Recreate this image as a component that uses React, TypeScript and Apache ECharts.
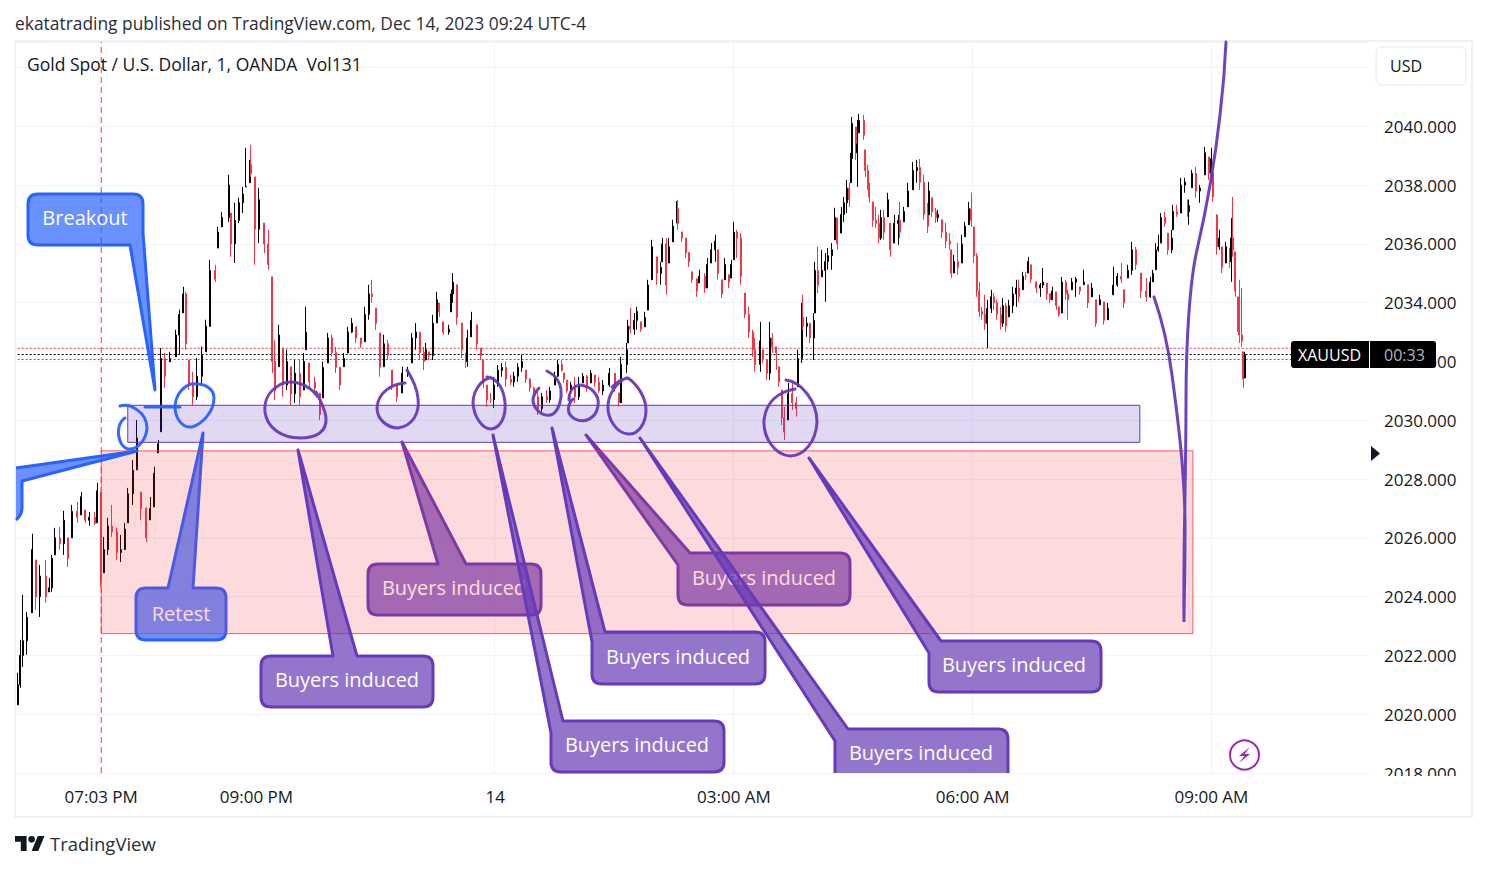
import React, { useEffect, useRef } from "react";
import * as echarts from "echarts";

const FONT = "'Open Sans', 'Noto Sans', sans-serif";
const INK = "#131722";
const UP = "#000000";
const DOWN = "#f23645";
const PURPLE = "#673ab7";
const BLUE = "#2962ff";

// Each row: [minutes after 18:00, low, high, close]
const eveningRows = [
  [0,2020.32,2021.41,2021.0],[2,2020.90,2022.53,2022.0],[4,2021.61,2024.06,2022.5],[7,2022.02,2023.48,2023.3],
  [11,2023.45,2026.14,2025.6],[14,2023.55,2025.25,2024.0],[17,2023.31,2025.08,2024.7],[21,2023.79,2025.25,2024.0],
  [24,2024.16,2024.64,2024.3],[26,2024.16,2025.42,2025.3],[28,2025.42,2026.34,2026.0],[32,2025.59,2026.37,2025.8],
  [35,2025.42,2026.92,2026.6],[38,2025.01,2026.0,2025.3],[41,2026.0,2027.12,2026.9],[45,2026.51,2027.22,2026.7],
  [48,2026.78,2027.56,2027.4],[51,2026.51,2026.95,2026.6],[54,2026.41,2026.88,2026.7],[58,2026.44,2026.88,2026.5],
  [60,2026.51,2027.87,2027.6],[63,2024.33,2027.56,2024.6],[65,2024.81,2026.03,2025.6],[68,2025.42,2026.68,2026.4],
  [71,2026.03,2027.12,2026.2],[75,2025.25,2026.34,2025.5],[78,2025.18,2026.10,2025.6],[81,2025.59,2026.51,2026.3],
  [83,2026.51,2027.70,2027.5],[87,2027.12,2028.65,2028.3],[90,2028.31,2030.01,2029.4],[93,2026.61,2027.56,2027.0],
  [97,2025.86,2027.05,2026.0],[100,2026.61,2027.39,2027.0],[103,2027.05,2028.42,2028.2],[106,2028.89,2029.33,2029.2],
];
const rallyOneRows = [
  [108,2029.61,2032.46,2032.1],[111,2031.10,2032.29,2031.5],[115,2031.99,2032.33,2032.1],[119,2032.16,2033.08,2032.9],
  [122,2032.23,2033.76,2033.6],[125,2033.65,2034.54,2034.3],[127,2032.40,2034.37,2032.6],[129,2031.03,2032.05,2031.2],
  [132,2030.52,2031.65,2030.8],[135,2030.69,2032.12,2031.5],[139,2031.27,2032.50,2032.2],[142,2032.33,2033.42,2033.2],
  [145,2033.18,2035.46,2035.1],[149,2034.71,2035.29,2034.8],[151,2035.86,2036.58,2036.4],[154,2036.58,2037.09,2036.9],
  [159,2036.75,2038.35,2038.0],[161,2035.56,2037.05,2036.0],[164,2035.35,2037.40,2036.8],[167,2036.71,2037.57,2037.4],
  [170,2037.05,2037.94,2037.7],[172,2037.94,2039.27,2037.95],[175,2038.08,2038.86,2038.7],[176,2038.28,2039.37,2038.4],
  [179,2035.29,2038.28,2036.5],[182,2036.03,2037.91,2037.5],[186,2035.69,2036.71,2036.0],[189,2035.12,2036.48,2035.3],
  [192,2031.61,2034.88,2032.0],
];
const lateEveningRows = [
  [194,2030.69,2032.74,2031.0],[197,2031.82,2033.25,2032.9],[200,2030.80,2032.46,2031.2],[203,2031.03,2032.40,2032.0],
  [206,2030.52,2031.82,2030.9],[209,2030.59,2032.05,2031.6],[213,2030.52,2032.05,2030.8],[216,2031.03,2032.29,2032.0],
  [217,2032.40,2033.86,2033.0],[220,2031.03,2031.95,2031.3],[224,2030.93,2031.48,2031.1],[228,2030.01,2030.93,2030.2],
  [230,2030.76,2031.99,2031.8],[234,2031.95,2032.97,2032.8],[237,2032.16,2032.91,2032.3],[240,2031.61,2032.50,2031.8],
  [243,2031.03,2031.82,2031.2],[246,2031.82,2032.29,2032.1],[249,2032.29,2033.18,2033.0],[252,2032.97,2033.48,2033.3],
  [255,2032.63,2033.18,2032.8],[259,2032.46,2032.80,2032.6],[262,2032.67,2033.86,2033.6],[265,2033.42,2034.61,2034.3],
  [267,2033.99,2034.78,2034.2],[270,2033.08,2033.82,2033.3],[273,2031.48,2032.97,2031.8],[276,2031.82,2032.91,2032.6],
  [279,2032.05,2032.74,2032.2],[282,2031.03,2031.71,2031.2],[286,2030.63,2031.27,2030.8],[290,2030.93,2031.82,2031.6],
  [294,2031.48,2031.82,2031.7],[297,2031.95,2032.97,2032.8],[300,2032.40,2033.31,2033.0],[303,2032.05,2033.01,2032.3],
  [306,2031.71,2032.50,2032.0],[308,2032.05,2032.63,2032.4],[310,2032.05,2032.33,2032.2],[313,2032.05,2033.59,2033.3],
  [316,2033.31,2034.37,2034.1],[318,2033.52,2033.99,2033.7],[321,2032.91,2033.35,2033.0],[325,2032.91,2033.25,2033.1],
  [327,2033.69,2034.44,2034.3],[328,2033.99,2035.01,2034.7],[331,2033.25,2034.61,2033.5],[335,2032.12,2033.31,2032.4],
  [338,2031.78,2032.29,2032.0],[339,2031.82,2033.08,2032.8],[342,2032.84,2033.69,2033.4],[346,2032.40,2033.25,2032.6],
  [349,2032.05,2032.46,2032.2],[351,2031.10,2032.05,2031.3],[354,2030.46,2031.20,2030.7],[357,2030.59,2030.93,2030.7],
];
const midnightRows = [
  [359,2030.42,2031.48,2031.2],[362,2031.14,2031.88,2031.7],[365,2031.48,2031.95,2031.8],[368,2031.14,2031.99,2031.4],
  [372,2031.20,2031.54,2031.3],[374,2031.14,2031.65,2031.5],[377,2031.31,2031.95,2031.8],[380,2031.65,2032.23,2032.0],
  [383,2031.27,2031.71,2031.4],[386,2030.97,2031.44,2031.1],[389,2030.69,2031.14,2030.8],[392,2030.18,2031.10,2030.4],
  [395,2030.29,2030.93,2030.8],[399,2030.59,2031.03,2030.7],[401,2030.59,2031.14,2031.0],[405,2031.20,2031.65,2031.5],
  [407,2031.48,2032.05,2031.9],[410,2031.65,2032.05,2031.7],[412,2031.27,2031.61,2031.4],[414,2030.93,2031.37,2031.0],
  [417,2030.97,2031.31,2031.2],[420,2030.59,2031.48,2030.8],[423,2030.69,2031.48,2031.2],[426,2031.27,2031.61,2031.5],
  [429,2030.97,2031.54,2031.1],[432,2031.27,2031.71,2031.6],[435,2031.14,2031.54,2031.3],[438,2030.93,2031.48,2031.0],
  [441,2030.86,2031.37,2031.2],[446,2031.14,2031.78,2031.6],[450,2030.97,2031.61,2031.1],[453,2030.46,2030.93,2030.6],
  [455,2030.59,2032.16,2031.9],
];
const preDawnRows = [
  [459,2031.61,2032.63,2032.4],[460,2032.63,2033.42,2033.2],[462,2032.97,2033.82,2033.1],[465,2032.91,2033.65,2033.4],
  [467,2033.08,2033.86,2033.7],[470,2033.01,2033.35,2033.1],[473,2033.18,2033.69,2033.5],[475,2033.75,2034.78,2034.6],
  [478,2034.78,2036.14,2035.9],[482,2034.61,2035.56,2035.0],[485,2034.61,2035.39,2035.2],[486,2035.39,2036.20,2036.0],
  [489,2034.27,2036.20,2034.6],[491,2035.35,2036.20,2035.9],[494,2036.07,2036.82,2036.6],[497,2036.71,2037.46,2037.2],
  [498,2036.48,2037.50,2036.7],[501,2036.07,2036.41,2036.2],[504,2035.52,2036.20,2035.7],[506,2035.22,2035.73,2035.4],
  [508,2034.67,2035.05,2034.8],[512,2034.20,2034.84,2034.4],[514,2034.67,2035.12,2034.9],[518,2034.33,2035.01,2034.5],
  [520,2034.50,2035.52,2035.3],[523,2035.35,2036.03,2035.8],[526,2035.39,2036.31,2036.1],[528,2034.78,2035.80,2035.0],
  [531,2034.16,2034.78,2034.3],[533,2034.78,2035.52,2035.3],[536,2034.50,2034.95,2034.7],[538,2034.84,2035.46,2035.3],
  [540,2035.46,2036.75,2036.4],[542,2035.52,2036.48,2036.2],[545,2034.61,2036.37,2034.9],[548,2033.48,2034.33,2033.6],
  [551,2032.80,2033.86,2033.0],[554,2032.16,2033.08,2032.4],[556,2031.65,2032.80,2031.9],[560,2031.65,2033.35,2032.7],
  [562,2031.95,2032.40,2032.1],[565,2031.37,2032.05,2031.6],[567,2031.37,2033.35,2032.8],[569,2032.29,2032.97,2032.5],
  [572,2031.71,2032.50,2032.3],[574,2031.14,2031.82,2031.3],[576,2029.84,2031.03,2030.1],[578,2029.33,2030.46,2029.6],
  [581,2030.01,2031.27,2030.9],[584,2030.35,2031.27,2030.6],[587,2030.12,2030.80,2030.4],[588,2031.14,2032.40,2032.1],
];
const dawnRows = [
  [591,2031.95,2033.99,2033.5],[592,2033.08,2034.27,2033.2],[595,2032.84,2033.52,2033.3],[597,2032.63,2033.31,2032.8],
  [600,2032.05,2033.65,2033.4],[601,2033.65,2035.39,2035.1],[603,2034.33,2035.90,2034.6],[606,2034.88,2035.80,2035.1],
  [609,2034.03,2035.69,2035.4],[611,2035.12,2035.86,2035.6],[614,2035.12,2036.03,2035.8],[616,2036.14,2037.23,2036.9],
  [618,2035.80,2036.88,2036.0],[621,2036.37,2037.26,2037.0],[623,2036.75,2037.60,2037.4],[625,2037.05,2038.18,2037.9],
  [627,2037.26,2038.08,2037.5],[628,2038.08,2039.10,2038.9],[629,2038.86,2040.32,2040.1],[632,2038.86,2039.98,2039.1],
  [633,2037.94,2040.22,2039.4],[634,2039.78,2040.42,2040.2],[638,2039.54,2040.39,2039.7],[639,2038.28,2039.20,2038.5],
  [641,2037.84,2038.69,2038.0],[642,2037.40,2038.08,2037.6],[645,2036.58,2037.43,2036.8],[647,2036.54,2037.26,2036.7],
  [649,2036.03,2036.99,2036.2],[651,2036.14,2037.16,2036.9],[653,2036.14,2037.16,2036.4],[656,2036.92,2037.74,2037.5],
  [658,2035.56,2036.71,2035.8],[661,2036.03,2036.99,2036.7],[664,2035.97,2036.99,2036.8],[665,2036.20,2037.43,2036.4],
  [668,2036.75,2037.26,2037.1],[671,2037.26,2038.08,2037.8],[675,2037.84,2038.79,2038.5],[678,2038.08,2038.86,2038.6],
  [680,2037.84,2038.89,2038.1],[683,2036.82,2038.35,2037.0],[686,2036.37,2037.40,2036.6],[687,2036.99,2038.11,2037.8],
  [689,2036.92,2037.57,2037.1],[692,2036.71,2037.23,2036.9],[694,2036.75,2037.16,2037.0],[697,2036.20,2036.82,2036.4],
  [700,2035.86,2036.71,2036.1],[703,2035.80,2036.37,2036.0],[704,2034.84,2035.80,2035.0],[706,2035.01,2035.63,2035.4],
  [709,2034.95,2036.03,2035.2],[712,2035.35,2036.31,2036.0],[714,2036.24,2036.75,2036.6],[717,2036.65,2037.43,2037.2],
  [719,2036.58,2037.74,2036.8],[721,2035.35,2036.58,2035.6],[723,2034.20,2035.69,2034.4],[725,2033.52,2034.71,2033.7],
];
const morningRows = [
  [727,2033.42,2033.86,2033.6],[729,2033.08,2034.27,2033.3],[731,2032.46,2034.10,2033.8],[734,2033.65,2034.44,2034.2],
  [736,2033.75,2034.33,2034.0],[738,2033.42,2034.10,2033.6],[741,2033.08,2033.86,2033.3],[743,2033.18,2034.16,2033.9],
  [745,2033.01,2033.99,2033.2],[747,2033.52,2034.10,2033.9],[750,2033.65,2034.54,2034.3],[753,2033.86,2034.78,2034.5],
  [755,2034.03,2034.78,2034.2],[758,2034.44,2035.05,2034.9],[760,2034.78,2035.05,2034.9],[762,2035.01,2035.56,2035.4],
  [764,2034.67,2035.29,2034.8],[768,2034.33,2034.71,2034.5],[771,2034.20,2034.67,2034.6],[773,2034.50,2035.18,2034.7],
  [776,2034.10,2034.67,2034.3],[778,2033.99,2034.33,2034.1],[780,2034.10,2034.54,2034.4],[783,2033.75,2034.37,2033.9],
  [785,2033.52,2033.86,2033.6],[787,2033.65,2034.88,2034.7],[790,2034.10,2034.78,2034.3],[792,2033.42,2034.44,2034.1],
  [795,2034.44,2034.84,2034.7],[798,2034.20,2034.88,2034.8],[801,2034.27,2034.54,2034.4],[804,2034.61,2035.12,2034.7],
  [807,2033.82,2034.61,2034.0],[810,2034.20,2034.67,2034.5],[813,2033.18,2034.10,2033.3],[816,2033.93,2034.27,2034.1],
  [819,2033.25,2034.03,2033.4],[822,2033.42,2033.99,2033.8],[826,2034.27,2035.22,2034.6],[829,2034.54,2035.01,2034.9],
  [832,2034.67,2035.35,2034.8],[834,2033.82,2034.44,2034.0],[837,2034.84,2035.29,2035.1],[840,2034.95,2036.07,2035.8],
  [843,2035.12,2035.90,2035.3],[847,2034.16,2035.01,2034.4],[851,2034.03,2034.84,2034.2],[854,2034.16,2034.88,2034.7],
  [856,2034.71,2035.12,2035.0],[858,2035.12,2036.03,2035.8],[860,2035.73,2036.31,2035.9],[862,2036.03,2037.05,2036.9],
  [865,2036.58,2037.09,2036.7],[867,2035.63,2036.37,2035.8],[870,2035.69,2036.48,2036.2],[871,2036.48,2037.33,2037.1],
  [874,2036.92,2037.33,2037.0],[877,2037.05,2038.25,2038.0],[880,2037.74,2038.25,2038.1],[882,2036.92,2037.50,2037.1],
  [883,2036.65,2037.50,2037.3],[885,2037.91,2038.52,2038.4],[888,2037.57,2038.62,2037.8],[891,2037.40,2038.01,2037.9],
  [895,2038.35,2039.30,2039.1],[898,2038.18,2038.96,2038.4],[900,2038.11,2039.27,2038.9],[901,2037.43,2038.42,2037.6],
  [904,2035.63,2036.99,2035.9],[906,2035.80,2036.48,2036.2],[908,2035.01,2035.90,2035.2],[911,2035.35,2036.07,2035.9],
  [914,2035.18,2035.86,2035.4],[915,2034.71,2036.88,2036.2],[916,2035.56,2037.60,2035.8],[918,2034.20,2035.73,2034.4],
  [920,2033.01,2034.20,2033.2],[921,2032.63,2034.78,2032.9],[923,2032.50,2034.50,2032.7],[924,2031.10,2032.33,2031.4],
  [925,2031.44,2032.33,2032.24],
];

const MINUTES = 1020;
const xTickLabels: Record<string, string> = { 63: "07:03 PM", 180: "09:00 PM", 360: "14", 540: "03:00 AM", 720: "06:00 AM", 900: "09:00 AM" };
const gridMinutes = [180, 360, 540, 720, 900];
const askPrice = 2032.45;
const lastPrice = 2032.24;
const bidPrice = 2032.07;
const sessionMinute = "63";
const priceFloor = 2018;
const priceCeiling = 2042.87;
const pinkZone = [63, 886, 2028.96, 2022.74];
const purpleZone = [83, 846, 2030.51, 2029.25];

const allRows = [...eveningRows, ...rallyOneRows, ...lateEveningRows, ...midnightRows, ...preDawnRows, ...dawnRows, ...morningRows];
const categories = Array.from({ length: MINUTES }, (_, i) => String(i));
const candles: any[] = categories.map(() => ["-", "-", "-", "-"]);
allRows.forEach((r, i) => {
  const [m, low, high, close] = r;
  const prev = i ? allRows[i - 1][3] : low;
  const open = Math.min(high, Math.max(low, prev));
  candles[m] = [open, close, low, high];
});

const lowerNotes = [
  { id: "retest", d: "M146,588 H168 L203,433 L193,588 H216 Q226,588 226,598 V630 Q226,640 216,640 H146 Q136,640 136,630 V598 Q136,588 146,588 Z", color: BLUE, text: "Retest", tx: 181, ty: 613 },
  { id: "b2", d: "M378,564 H438 L402,442 L466,564 H531 Q541,564 541,574 V605 Q541,615 531,615 H378 Q368,615 368,605 V574 Q368,564 378,564 Z", color: PURPLE, text: "Buyers induced", tx: 454, ty: 587 },
  { id: "b5", d: "M678,565 L586,435 L690,553 H840 Q850,553 850,563 V595 Q850,605 840,605 H688 Q678,605 678,595 Z", color: PURPLE, text: "Buyers induced", tx: 764, ty: 577 },
];
const upperNotes = [
  { id: "breakout", d: "M38,194 H133 Q143,194 143,204 V233 L155,390 L130,245 H38 Q28,245 28,235 V204 Q28,194 38,194 Z", color: BLUE, text: "Breakout", tx: 85, ty: 217 },
  { id: "left", d: "M16,468 L137,451 L22,481 V508 Q22,515 16,520", color: BLUE, text: "", tx: 0, ty: 0 },
  { id: "b1", d: "M271,656 H333 L298,450 L357,656 H423 Q433,656 433,666 V697 Q433,707 423,707 H271 Q261,707 261,697 V666 Q261,656 271,656 Z", color: PURPLE, text: "Buyers induced", tx: 347, ty: 679 },
  { id: "b3", d: "M551,733 L493,435 L563,721 H714 Q724,721 724,731 V762 Q724,772 714,772 H561 Q551,772 551,762 Z", color: PURPLE, text: "Buyers induced", tx: 637, ty: 744 },
  { id: "b4", d: "M592,642 L552,428 L605,632 H755 Q765,632 765,642 V674 Q765,684 755,684 H602 Q592,684 592,674 Z", color: PURPLE, text: "Buyers induced", tx: 678, ty: 656 },
  { id: "b6", d: "M835,773 V741 L640,438 L848,729 H998 Q1008,729 1008,739 V773", color: PURPLE, text: "Buyers induced", tx: 921, ty: 752 },
  { id: "b7", d: "M929,653 L809,458 L941,641 H1091 Q1101,641 1101,651 V682 Q1101,692 1091,692 H939 Q929,692 929,682 Z", color: PURPLE, text: "Buyers induced", tx: 1014, ty: 664 },
];
const scribbles = [
  { id: "c1", color: PURPLE, d: "M318,397 C308,383 290,378 278,386 C268,392 264,402 265,412 C267,428 282,438 300,438 C316,438 327,432 326,418 C325,408 321,402 316,392" },
  { id: "c2", color: PURPLE, d: "M405,383 C392,384 378,392 377,408 C377,420 388,428 398,428 C412,426 420,414 418,398 C417,388 412,378 407,370" },
  { id: "c3", color: PURPLE, d: "M489,378 C478,382 473,394 473,403 C474,418 483,429 491,429 C501,428 506,416 505,403 C504,390 498,378 487,377" },
  { id: "c4", color: PURPLE, d: "M539,388 C534,393 531,400 535,407 C540,415 548,417 553,414 C559,410 562,398 561,390 C560,380 553,374 547,371" },
  { id: "c5", color: PURPLE, d: "M573,399 C567,405 566,414 575,419 C585,424 596,418 598,406 C600,394 590,386 580,385 C573,386 569,392 569,400" },
  { id: "c6", color: PURPLE, d: "M612,387 C617,382 622,379 628,378 C638,385 646,398 646,410 C646,425 637,435 628,434 C616,433 607,418 608,405 C609,392 618,382 626,378" },
  { id: "c7", color: PURPLE, d: "M786,380 C802,382 817,402 817,422 C816,443 803,456 790,456 C775,455 763,438 764,420 C766,402 778,392 795,389" },
  { id: "swoop", color: PURPLE, d: "M1154,297 C1162,320 1168,345 1172,375 C1178,420 1186,480 1185,540 C1185,580 1184,600 1184,622 C1183,560 1186,480 1186,400 C1186,340 1190,280 1197,250 C1205,215 1215,160 1220,115 C1223,90 1225,65 1226,42" },
  { id: "c8", color: BLUE, d: "M191,384 C180,388 175,398 175,408 C176,420 183,428 192,427 C202,424 214,412 214,398 C214,388 204,383 191,384" },
  { id: "c9", color: BLUE, d: "M120,406 C130,403 147,412 147,428 C146,442 136,450 128,449 C120,447 117,435 119,427 C120,423 122,420 125,418" },
  { id: "c10", color: BLUE, d: "M145,407 H180" },
];
const logoPath = "M14 22H7V11H0V4h14v18zM28 22h-8l7.5-18h8L28 22zM24 8a4 4 0 1 1-8 0a4 4 0 1 1 8 0z";

[...lowerNotes, ...upperNotes, ...scribbles].forEach((n) => {
  echarts.graphic.registerShape("s_" + n.id, echarts.graphic.extendPath(n.d, {}));
});
echarts.graphic.registerShape("tvLogo", echarts.graphic.extendPath(logoPath, {}));

const fillOf = (c: string) => (c === BLUE ? "rgba(41,98,255,0.7)" : "rgba(103,58,183,0.7)");

const noteEls = (list: typeof lowerNotes, z: number) =>
  list.flatMap((n) => {
    const els: any[] = [
      { type: "s_" + n.id, x: 0, y: 0, z, silent: true, style: { fill: fillOf(n.color), stroke: n.color, lineWidth: 3, lineJoin: "round" } },
    ];
    if (n.text)
      els.push({ type: "text", x: n.tx, y: n.ty, z: z + 1, silent: true, style: { text: n.text, fill: "#ffffff", font: `500 20px ${FONT}`, textAlign: "center", textVerticalAlign: "middle" } });
    return els;
  });

const label = (text: string, x: number, y: number, font: string, fill: string, z = 101, align = "left") => ({
  type: "text", x, y, z, silent: true, style: { text, fill, font: `${font} ${FONT}`, textAlign: align, textVerticalAlign: "middle" },
});

const guideSeries = (name: string, data: any[], color: string, dash: number[]) => ({
  type: "line",
  name,
  data,
  silent: true,
  z: 2,
  showSymbol: false,
  symbol: "none",
  itemStyle: { color },
  lineStyle: { color, type: dash, width: 1 },
});
const level = (v: number) => [["0", v], [String(MINUTES - 1), v]];

export default function App() {
  const ref = useRef<HTMLDivElement>(null);
  useEffect(() => {
    const chart = echarts.init(ref.current!, undefined, { renderer: "svg" });
    const graphicEls: any[] = [
      ...noteEls(lowerNotes, 3),
      ...noteEls(upperNotes, 6),
      ...scribbles.map((s) => ({ type: "s_" + s.id, x: 0, y: 0, z: 8, silent: true, style: { fill: "none", stroke: s.color, lineWidth: 3, lineCap: "round", opacity: 0.95 } })),
      { type: "rect", z: 1, silent: true, shape: { x: 15, y: 41, width: 1457, height: 776 }, style: { fill: "none", stroke: "#f0f0f5", lineWidth: 2 } },
      { type: "rect", z: 100, silent: true, shape: { x: 1372, y: 776, width: 98, height: 40 }, style: { fill: "#ffffff" } },
      { type: "rect", z: 100, silent: true, shape: { x: 1376, y: 47, width: 90, height: 38, r: 6 }, style: { fill: "#ffffff", stroke: "#e6e8ee", lineWidth: 1 } },
      label("USD", 1390, 66, "16px", INK),
      { type: "rect", z: 100, silent: true, shape: { x: 1291, y: 341, width: 145, height: 27, r: 3 }, style: { fill: "#000000" } },
      { type: "line", z: 101, silent: true, shape: { x1: 1369.5, y1: 341, x2: 1369.5, y2: 368 }, style: { stroke: "#ffffff", lineWidth: 1 } },
      label("XAUUSD", 1298, 355, "16px", "#ffffff"),
      label("00:33", 1384, 355, "16px", "#b2b5be"),
      { type: "polygon", z: 100, silent: true, shape: { points: [[1371, 446], [1380, 453.5], [1371, 461]] }, style: { fill: INK } },
      { type: "circle", z: 100, silent: true, shape: { cx: 1244.5, cy: 755, r: 14.5 }, style: { fill: "#ffffff", stroke: "#9c27b0", lineWidth: 2 } },
      { type: "polygon", z: 101, silent: true, shape: { points: [[1250, 747], [1239, 756], [1244.5, 756], [1239, 763], [1250, 754], [1244.5, 754]] }, style: { fill: "#9c27b0" } },
      label("ekatatrading published on TradingView.com, Dec 14, 2023 09:24 UTC-4", 15, 23, "17.4px", "#2a2e39"),
      label("Gold Spot / U.S. Dollar, 1, OANDA  Vol131", 27, 64, "17.5px", INK),
      { type: "tvLogo", x: 15, y: 832.7, scaleX: 0.83, scaleY: 0.83, z: 101, silent: true, style: { fill: "#131722" } },
      label("TradingView", 50, 843.5, "18.5px", "#2a2e39"),
    ];
    chart.setOption({
      animation: false,
      backgroundColor: "#ffffff",
      grid: { left: 17, right: 117, top: 42, bottom: 97, show: false },
      xAxis: {
        type: "category",
        data: categories,
        axisLine: { show: true, lineStyle: { color: "#f0f3fa", width: 1 } },
        axisTick: { show: false },
        axisLabel: {
          interval: (i: number) => String(i) in xTickLabels,
          formatter: (v: string) => xTickLabels[v] ?? "",
          color: INK,
          fontFamily: FONT,
          fontSize: 17,
          margin: 15,
        },
        splitLine: { show: true, showMinLine: false, showMaxLine: false, interval: (i: number) => gridMinutes.includes(i), lineStyle: { color: "#f0f3fa", width: 1 } },
      },
      yAxis: {
        type: "value",
        position: "right",
        min: priceFloor,
        max: priceCeiling,
        interval: 2,
        axisLine: { show: false },
        axisTick: { show: false },
        axisLabel: { color: INK, fontFamily: FONT, fontSize: 17, margin: 14, showMaxLabel: false, formatter: (v: number) => (v >= 2042 ? "" : v.toFixed(3)) },
        splitLine: { show: true, lineStyle: { color: "#f0f3fa", width: 1 } },
      },
      series: [
        {
          type: "candlestick",
          name: "XAUUSD",
          large: false,
          barWidth: 1.5,
          data: candles,
          itemStyle: { color: UP, color0: DOWN, borderColor: UP, borderColor0: DOWN, borderWidth: 1 },
          markArea: {
            silent: true,
            z: 5,
            data: [
              [
                { xAxis: String(pinkZone[0]), yAxis: pinkZone[2], itemStyle: { color: "rgba(242,54,69,0.18)", borderColor: "rgba(242,54,69,0.8)", borderWidth: 1 } },
                { xAxis: String(pinkZone[1]), yAxis: pinkZone[3] },
              ],
              [
                { xAxis: String(purpleZone[0]), yAxis: purpleZone[2], itemStyle: { color: "rgba(103,58,183,0.2)", borderColor: PURPLE, borderWidth: 1 } },
                { xAxis: String(purpleZone[1]), yAxis: purpleZone[3] },
              ],
            ],
          },
        },
        guideSeries("Ask", level(askPrice), DOWN, [2, 2]),
        guideSeries("Last", level(lastPrice), "#000000", [2, 2]),
        guideSeries("Bid", level(bidPrice), BLUE, [2, 2]),
        guideSeries("Session", [[sessionMinute, priceFloor], [sessionMinute, priceCeiling]], DOWN, [6, 4]),
      ],
      graphic: { elements: graphicEls },
    });
    return () => chart.dispose();
  }, []);
  return <div ref={ref} style={{ position: "absolute", left: 0, top: 0, width: 1487, height: 870 }} />;
}
